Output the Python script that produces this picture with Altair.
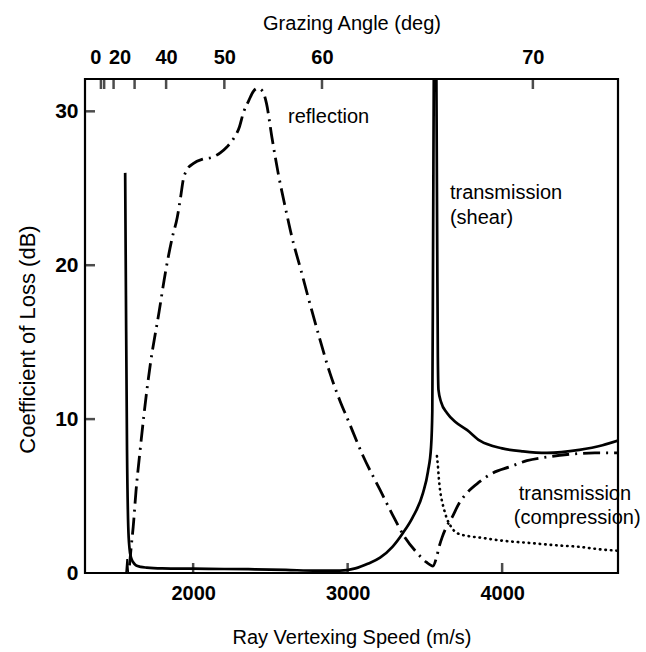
import altair as alt
import pandas as pd

FONT = "Liberation Sans"

# Reflection loss (dash-dot curve): ray vertexing speed (m/s) vs loss (dB)
refl_speed = [1588, 1600, 1612, 1630, 1657, 1702, 1722, 1780, 1820, 1865,
              1897, 1920, 1935, 1960, 2000, 2065, 2120, 2175, 2220, 2260,
              2300, 2325, 2360, 2390, 2420, 2450, 2475, 2510, 2550, 2600,
              2640, 2700, 2745, 2820, 2885, 2950, 3000, 3100, 3210, 3290,
              3371, 3450, 3510, 3552, 3575, 3592, 3611, 3640, 3675, 3720,
              3772, 3850, 3940, 4050, 4160, 4300, 4420, 4600, 4750]
refl_db = [0.5, 1.8, 3.0, 5.3, 8.0, 12.0, 13.5, 17.0, 19.5, 21.8,
           23.1, 24.5, 25.5, 26.2, 26.6, 26.9, 27.0, 27.3, 27.7, 28.2,
           29.0, 29.9, 30.7, 31.3, 31.5, 31.3, 30.5, 28.3, 26.0, 23.6,
           21.8, 19.6, 17.9, 15.2, 13.0, 11.2, 10.0, 7.6, 5.4, 3.8,
           2.3, 1.3, 0.7, 0.45, 1.0, 1.7, 2.3, 3.0, 3.6, 4.5,
           5.2, 5.9, 6.5, 6.9, 7.3, 7.55, 7.7, 7.8, 7.8]

# Shear-wave transmission loss (solid curve)
shear_speed = [1560, 1565, 1572, 1580, 1588, 1598, 1612, 1630, 1660, 1700,
               1800, 2000, 2200, 2400, 2600, 2800, 2950, 3050, 3130, 3210,
               3290, 3358, 3420, 3488, 3520, 3540, 3548, 3553, 3558, 3566,
               3574, 3580, 3584, 3588, 3605, 3643, 3700, 3772, 3856, 4000,
               4135, 4290, 4500, 4650, 4750]
shear_db = [26.0, 18.0, 8.0, 3.0, 1.6, 1.0, 0.7, 0.5, 0.4, 0.35,
            0.3, 0.28, 0.26, 0.24, 0.2, 0.15, 0.15, 0.3, 0.6, 1.0,
            1.7, 2.6, 3.6, 5.2, 6.6, 8.2, 10.5, 21.0, 33.0, 45.0,
            33.0, 21.0, 14.0, 11.9, 11.1, 10.4, 9.8, 9.3, 8.6, 8.1,
            7.9, 7.8, 8.0, 8.3, 8.6]

# Compressional-wave transmission loss (dotted curve)
comp_speed = [3578, 3584, 3590, 3598, 3610, 3625, 3640, 3670, 3707, 3780,
              3856, 4000, 4180, 4350, 4500, 4620, 4740]
comp_db = [7.6, 7.0, 6.2, 5.4, 4.7, 4.1, 3.6, 3.0, 2.6, 2.4,
           2.3, 2.1, 1.95, 1.8, 1.7, 1.55, 1.45]

# Narrow blip near the compressional critical speed
blip_speed = [1566, 1573, 1580]
blip_db = [0.0, 0.9, 0.0]

# Axis ticks
speed_ticks = [2000, 3000, 4000]
loss_ticks = [0, 10, 20, 30]
angle_values = [0, 10, 20, 30, 40, 50, 60, 70]
angle_tick_speed = [1403, 1424, 1485, 1621, 1825, 2202, 2834, 4199]
angle_labelled = [0, 20, 40, 50, 60, 70]

# Curve annotations
note_text = ["reflection", "transmission", "(shear)", "transmission", "(compression)"]
note_speed = [2614, 3662, 3662, 4108, 4076]
note_db = [29.6, 24.7, 23.1, 5.13, 3.57]

SPEED_MIN, SPEED_MAX = 1300, 4750
LOSS_MIN, LOSS_MAX = 0, 32.1

refl = pd.DataFrame({"speed": refl_speed, "db": refl_db})
shear = pd.DataFrame({"speed": shear_speed, "db": shear_db})
comp = pd.DataFrame({"speed": comp_speed, "db": comp_db})
blip = pd.DataFrame({"speed": blip_speed, "db": blip_db})
notes = pd.DataFrame({"speed": note_speed, "db": note_db, "label": note_text})
bottom_ticks = pd.DataFrame({"speed": speed_ticks})
top_ticks = pd.DataFrame({"speed": angle_tick_speed})
left_ticks = pd.DataFrame({"db": [v for v in loss_ticks if v > 0]})

x_scale = alt.Scale(domain=[SPEED_MIN, SPEED_MAX], nice=False, zero=False)
y_scale = alt.Scale(domain=[LOSS_MIN, LOSS_MAX], nice=False, zero=False)

# top axis labels: speed tick -> grazing angle text
parts = []
for a, s in zip(angle_values, angle_tick_speed):
    if a in angle_labelled:
        parts.append(f"datum.value == {s} ? '{a}' : ")
angle_expr = "".join(parts) + "''"

# axes carry labels and titles only; the inward ticks are drawn as tick marks
common = dict(
    domain=False, grid=False, ticks=False,
    labelFont=FONT, labelFontWeight="bold", labelColor="black",
    titleFont=FONT, titleFontWeight="normal", titleColor="black",
    labelFlush=False, labelOverlap=False,
)

bottom_axis = alt.Axis(
    orient="bottom", values=speed_ticks, format="d",
    title="Ray Vertexing Speed (m/s)", titleFontSize=20, labelFontSize=20,
    labelPadding=10, titlePadding=24, **common,
)
top_axis = alt.Axis(
    orient="top", values=angle_tick_speed, labelExpr=angle_expr,
    title="Grazing Angle (deg)", titleFontSize=20, labelFontSize=20,
    labelPadding=12, titlePadding=14,
    labelAlign={"condition": {"test": "datum.value < 1450", "value": "right"}, "value": "center"},
    labelOffset={"condition": {"test": "datum.value > 1450 && datum.value < 1500", "value": 6}, "value": 0},
    **common,
)
left_axis = alt.Axis(
    orient="left", values=loss_ticks,
    title="Coefficient of Loss (dB)", titleFontSize=22, titleY=260, labelFontSize=21,
    labelPadding=7, titlePadding=15, **common,
)

line_kw = dict(color="black", clip=True, interpolate="monotone")

refl_layer = alt.Chart(refl).mark_line(
    strokeWidth=2.8, strokeDash=[17, 6, 2, 6], **line_kw
).encode(
    x=alt.X("speed:Q", scale=x_scale, axis=bottom_axis),
    y=alt.Y("db:Q", scale=y_scale, axis=left_axis),
)

shear_layer = alt.Chart(shear).mark_line(strokeWidth=2.7, **line_kw).encode(
    x=alt.X("speed:Q", scale=x_scale, axis=top_axis),
    y=alt.Y("db:Q", scale=y_scale, axis=None),
)

comp_layer = alt.Chart(comp).mark_line(
    strokeWidth=2.6, strokeDash=[0.5, 5], strokeCap="round", **line_kw
).encode(
    x=alt.X("speed:Q", scale=x_scale, axis=None),
    y=alt.Y("db:Q", scale=y_scale, axis=None),
)

blip_layer = alt.Chart(blip).mark_line(strokeWidth=1.8, color="black", clip=True).encode(
    x=alt.X("speed:Q", scale=x_scale, axis=None),
    y=alt.Y("db:Q", scale=y_scale, axis=None),
)

note_layer = alt.Chart(notes).mark_text(
    align="left", baseline="middle", font=FONT, fontSize=20, color="black"
).encode(
    x=alt.X("speed:Q", scale=x_scale, axis=None),
    y=alt.Y("db:Q", scale=y_scale, axis=None),
    text="label:N",
)

# inward tick marks along the frame
TICK_LEN = 10
tick_kw = dict(color="black", thickness=2.5, size=TICK_LEN)

bottom_tick_layer = alt.Chart(bottom_ticks).mark_tick(
    orient="vertical", yOffset=-TICK_LEN / 2, **tick_kw
).encode(
    x=alt.X("speed:Q", scale=x_scale, axis=None),
    y=alt.YDatum(LOSS_MIN, scale=y_scale, axis=None),
)

top_tick_layer = alt.Chart(top_ticks).mark_tick(
    orient="vertical", yOffset=TICK_LEN / 2, **tick_kw
).encode(
    x=alt.X("speed:Q", scale=x_scale, axis=None),
    y=alt.YDatum(LOSS_MAX, scale=y_scale, axis=None),
)

left_tick_layer = alt.Chart(left_ticks).mark_tick(
    orient="horizontal", xOffset=TICK_LEN / 2, **tick_kw
).encode(
    x=alt.XDatum(SPEED_MIN, scale=x_scale, axis=None),
    y=alt.Y("db:Q", scale=y_scale, axis=None),
)

chart = (
    alt.layer(
        refl_layer, shear_layer, comp_layer, blip_layer, note_layer,
        bottom_tick_layer, top_tick_layer, left_tick_layer,
    )
    .resolve_axis(x="independent", y="independent")
    .properties(
        width=533, height=494,
        autosize=alt.AutoSizeParams(type="none"),
        padding={"left": 85, "top": 79, "right": 28, "bottom": 79},
        background="white",
    )
    .configure_view(stroke="black", strokeWidth=2.2)
)

chart.save("out.html", embed_options={"renderer": "svg", "actions": False})
